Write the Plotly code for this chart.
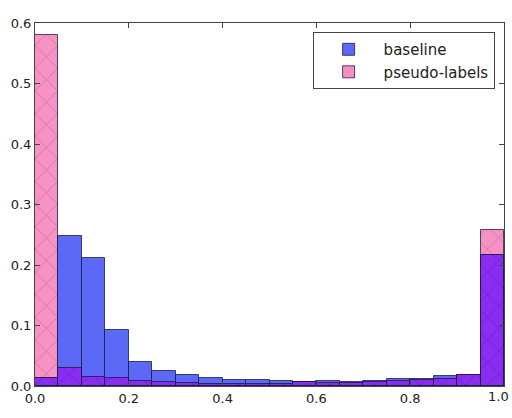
import plotly.graph_objects as go

bin_edges = [i * 0.05 for i in range(21)]
baseline = [0.013, 0.248, 0.212, 0.093, 0.040, 0.025, 0.019, 0.014, 0.010, 0.010,
            0.009, 0.006, 0.009, 0.006, 0.009, 0.012, 0.012, 0.016, 0.019, 0.216]
pseudo = [0.580, 0.029, 0.015, 0.014, 0.008, 0.007, 0.005, 0.004, 0.004, 0.004,
          0.004, 0.007, 0.005, 0.005, 0.007, 0.009, 0.010, 0.012, 0.018, 0.258]
x_ticks = [0, 0.2, 0.4, 0.6, 0.8, 1.0]
x_labels = ["0.0", "0.2", "0.4", "0.6", "0.8", "1.0"]
y_ticks = [0, 0.1, 0.2, 0.3, 0.4, 0.5, 0.6]
y_labels = ["0.0", "0.1", "0.2", "0.3", "0.4", "0.5", "0.6"]

centers = [(bin_edges[i] + bin_edges[i + 1]) / 2 for i in range(20)]
width = 0.05
overlap = [min(a, b) for a, b in zip(baseline, pseudo)]

edge = dict(color="rgba(20,20,60,0.75)", width=1)
fig = go.Figure()
fig.add_trace(go.Bar(x=centers, y=pseudo, width=width, name="pseudo-labels",
                     marker=dict(color="#f793c4", line=edge,
                                 pattern=dict(shape="x", fgcolor="rgba(140,50,100,0.75)",
                                              size=16, solidity=0.09)),
                     legendrank=2))
fig.add_trace(go.Bar(x=centers, y=baseline, width=width, name="baseline",
                     marker=dict(color="#5c68f6", line=edge), legendrank=1))
fig.add_trace(go.Bar(x=centers, y=overlap, width=width, name="overlap", showlegend=False,
                     marker=dict(color="#8a2cf2", line=edge,
                                 pattern=dict(shape="x", fgcolor="rgba(60,15,110,0.75)",
                                              size=16, solidity=0.09))))

font = dict(family="DejaVu Sans", size=13, color="#222")
axis_common = dict(showline=True, linecolor="#444", linewidth=1, mirror="ticks",
                   ticks="inside", ticklen=5, tickcolor="#444", showgrid=False,
                   zeroline=False, tickfont=font)
fig.update_layout(
    width=512, height=418,
    margin=dict(l=35, r=8, t=23, b=32),
    barmode="overlay", bargap=0,
    plot_bgcolor="white", paper_bgcolor="white",
    xaxis=dict(range=[0, 1], tickvals=x_ticks[:-1], ticktext=x_labels[:-1], **axis_common),
    yaxis=dict(range=[0, 0.6], tickvals=y_ticks, ticktext=y_labels, **axis_common),
    legend=dict(x=0.98, y=0.975, xanchor="right", yanchor="top",
                bgcolor="white", bordercolor="#444", borderwidth=1,
                font=dict(family="DejaVu Sans", size=15, color="#222"),
                traceorder="normal", tracegroupgap=2, itemwidth=60),
    showlegend=True,
)
# last x tick label, nudged to stay inside the page
fig.add_annotation(x=x_ticks[-1], y=0, xref="x", yref="y", text=x_labels[-1],
                   showarrow=False, yanchor="top", xanchor="right", xshift=7,
                   yshift=-1, font=font)
fig.write_html("out.html")
